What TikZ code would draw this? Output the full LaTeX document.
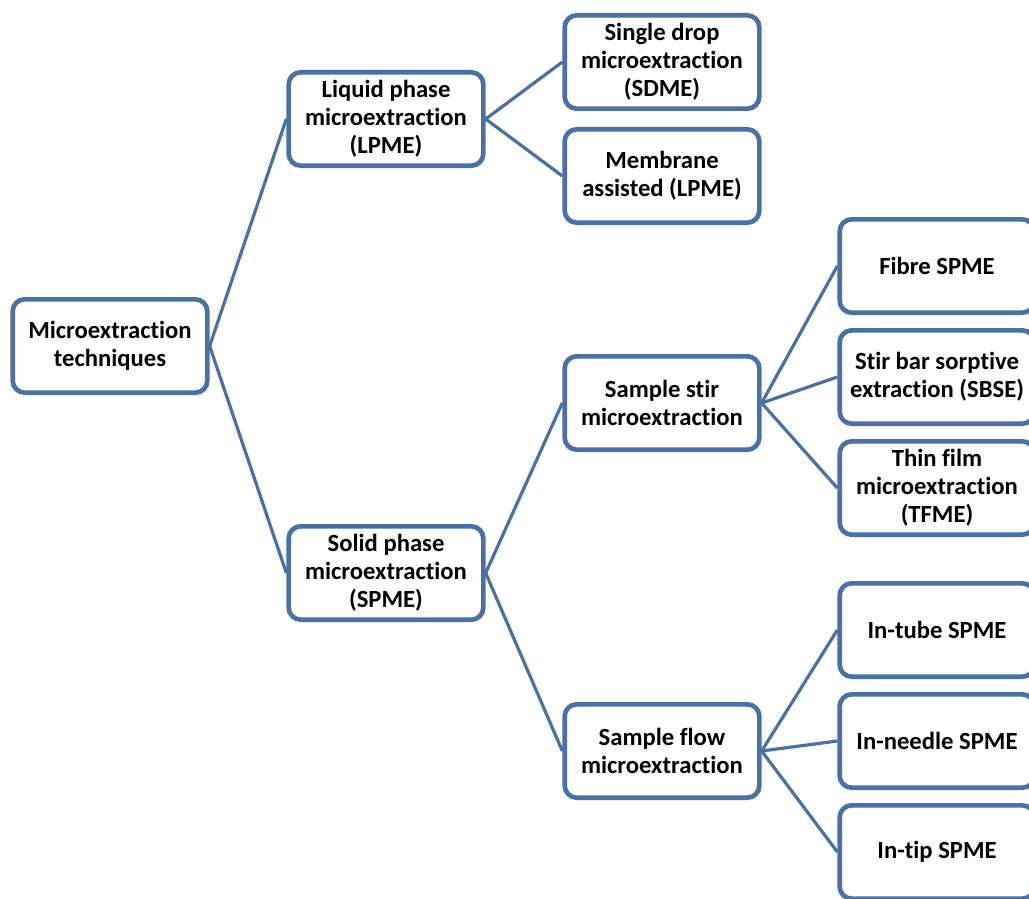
\documentclass[tikz,border=0pt]{standalone}
\usepackage{fontspec}
\setmainfont[Ligatures={NoCommon}]{Carlito}
\usetikzlibrary{shadows}

\definecolor{boxblue}{HTML}{4A70A6}

\begin{document}
\begin{tikzpicture}[
		x=0.75pt, y=-0.75pt,
		every node/.style={draw=boxblue, line width=3.5pt, rounded corners=9pt, fill=white, align=center,
			minimum width=146pt, minimum height=70pt, inner sep=2pt,
			font=\fontsize{18.5}{21}\selectfont\bfseries,
			drop shadow={opacity=0.25, shadow xshift=1.2pt, shadow yshift=-1.5pt}},
		link/.style={line width=2.4pt, draw=boxblue}
	]
	\useasboundingbox (0,0) rectangle (1029,899);

	% Nodes
	\node (root) at (110,346) {Microextraction\\techniques};
	\node (lpme) at (386,119) {Liquid phase\\microextraction\\(LPME)};
	\node (spme) at (386,573) {Solid phase\\microextraction\\(SPME)};

	\node (sdme) at (662,62) {Single drop\\microextraction\\(SDME)};
	\node (memb) at (662,176) {Membrane\\assisted (LPME)};
	\node (stir) at (662,403) {Sample stir\\microextraction};
	\node (flow) at (662,751) {Sample flow\\microextraction};

	\node (fibre) at (937,266) {Fibre SPME};
	\node (sbse) at (937,377) {Stir bar sorptive\\extraction (SBSE)};
	\node (tfme) at (937,488) {Thin film\\microextraction\\(TFME)};
	\node (tube) at (937,630) {In-tube SPME};
	\node (needle) at (937,741) {In-needle SPME};
	\node (tip) at (937,852) {In-tip SPME};

	% Connections
	\draw[link] (root.east) -- (lpme.west);
	\draw[link] (root.east) -- (spme.west);

	\draw[link] (lpme.east) -- (sdme.west);
	\draw[link] (lpme.east) -- (memb.west);

	\draw[link] (spme.east) -- (stir.west);
	\draw[link] (spme.east) -- (flow.west);

	\draw[link] (stir.east) -- (fibre.west);
	\draw[link] (stir.east) -- (sbse.west);
	\draw[link] (stir.east) -- (tfme.west);

	\draw[link] (flow.east) -- (tube.west);
	\draw[link] (flow.east) -- (needle.west);
	\draw[link] (flow.east) -- (tip.west);

\end{tikzpicture}
\end{document}
